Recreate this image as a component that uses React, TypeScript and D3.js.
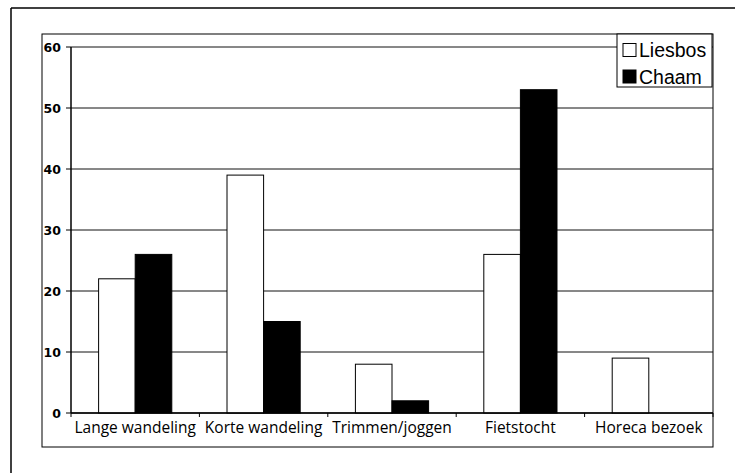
import React from "react";
import * as d3 from "d3";

const categories = ["Lange wandeling", "Korte wandeling", "Trimmen/joggen", "Fietstocht", "Horeca bezoek"];
const seriesNames = ["Liesbos", "Chaam"];
const liesbos = [22, 39, 8, 26, 9];
const chaam = [26, 15, 2, 53, 0];
const yTicks = [0, 10, 20, 30, 40, 50, 60];

const W = 735;
const H = 473;
const plot = { left: 71, right: 713, top: 47, bottom: 413 };
const box = { left: 42, right: 713, top: 34, bottom: 447 };

export default function App() {
  const x0 = d3.scaleBand<string>().domain(categories).range([plot.left, plot.right]).paddingInner(0.43).paddingOuter(0.215);
  const x1 = d3.scaleBand<string>().domain(seriesNames).range([0, x0.bandwidth()]).padding(0);
  const y = d3.scaleLinear().domain([0, 60]).range([plot.bottom, plot.top]);
  const step = x0.step();
  const boundaries = d3.range(categories.length + 1).map((i) => plot.left + i * step);
  const data = [liesbos, chaam];
  const fills = ["#ffffff", "#000000"];

  return (
    <svg width={W} height={H} style={{ position: "absolute", left: 0, top: 0, background: "#fff" }}>
      <rect x={0} y={0} width={W} height={H} fill="#fff" />
      {/* outer frame */}
      <line x1={11} y1={8} x2={W} y2={8} stroke="#000" strokeWidth={1.5} />
      <line x1={11} y1={8} x2={11} y2={H} stroke="#000" strokeWidth={1.5} />
      {/* chart box */}
      <rect x={box.left} y={box.top} width={box.right - box.left} height={box.bottom - box.top} fill="none" stroke="#000" strokeWidth={1} />
      {/* gridlines */}
      {yTicks.map((t) => (
        <line key={"g" + t} x1={plot.left} x2={plot.right} y1={y(t)} y2={y(t)} stroke="#111" strokeWidth={1} />
      ))}
      {/* bars */}
      {categories.map((c, i) => (
        <g key={c}>
          {seriesNames.map((s, j) => {
            const v = data[j][i];
            if (!v) return null;
            return (
              <rect
                key={s}
                x={(x0(c) as number) + (x1(s) as number)}
                y={y(v)}
                width={x1.bandwidth()}
                height={y(0) - y(v)}
                fill={fills[j]}
                stroke="#000"
                strokeWidth={1}
              />
            );
          })}
        </g>
      ))}
      {/* axes */}
      <line x1={plot.left} x2={plot.left} y1={plot.top} y2={plot.bottom} stroke="#000" strokeWidth={1.5} />
      <line x1={plot.left} x2={plot.right} y1={plot.bottom} y2={plot.bottom} stroke="#000" strokeWidth={1.5} />
      {yTicks.map((t) => (
        <g key={"t" + t}>
          <line x1={plot.left - 5} x2={plot.left} y1={y(t)} y2={y(t)} stroke="#000" strokeWidth={1} />
          <text x={61} y={y(t) + 4.5} textAnchor="end" fontFamily="DejaVu Sans" fontSize={12.5} fontWeight={600} fill="#000">
            {t}
          </text>
        </g>
      ))}
      {boundaries.map((b, i) => (
        <line key={"xb" + i} x1={b} x2={b} y1={plot.bottom} y2={plot.bottom + 4} stroke="#000" strokeWidth={1} />
      ))}
      {categories.map((c) => (
        <text key={"xl" + c} x={(x0(c) as number) + x0.bandwidth() / 2} y={433} textAnchor="middle" fontFamily="Open Sans" fontSize={15.5} fill="#000">
          {c}
        </text>
      ))}
      {/* legend */}
      <rect x={617} y={34} width={95} height={53} fill="#fff" stroke="#000" strokeWidth={1} />
      {seriesNames.map((s, j) => (
        <g key={"lg" + s}>
          <rect x={623} y={43.5 + j * 26.5} width={13} height={13} fill={fills[j]} stroke="#000" strokeWidth={1} />
          <text x={639} y={57 + j * 26.5} fontFamily="Liberation Sans" fontSize={19.5} fill="#000">
            {s}
          </text>
        </g>
      ))}
    </svg>
  );
}
